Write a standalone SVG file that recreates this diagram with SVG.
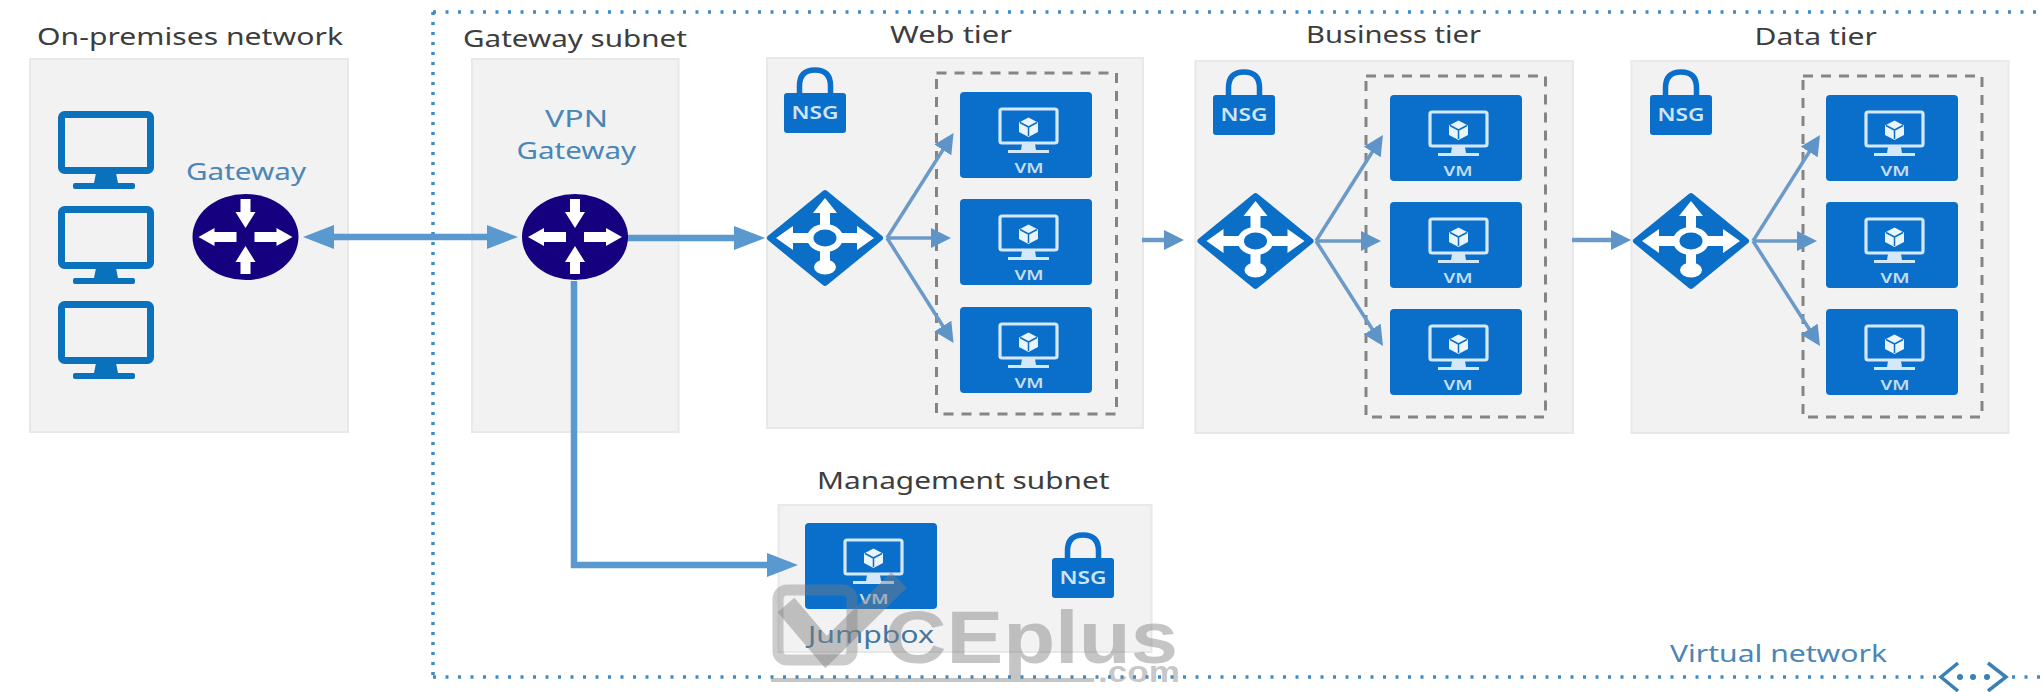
<svg xmlns="http://www.w3.org/2000/svg" xmlns:xlink="http://www.w3.org/1999/xlink" width="2042" height="692" viewBox="0 0 2042 692">
<style>
.box{fill:#f2f2f2;stroke:#e8e8e8;stroke-width:2}
.dash{fill:none;stroke:#858585;stroke-width:3;stroke-dasharray:10 8}
.title{font-family:"Noto Sans","Open Sans",sans-serif;font-size:23px;fill:#3d3d3d}
.blue{font-family:"Noto Sans","Open Sans",sans-serif;font-size:23px;fill:#4a86b6}
.vmt{font-family:"Noto Sans","Liberation Sans",sans-serif;font-size:14px;font-weight:600;fill:#c4def2;text-anchor:middle}
.nsgt{font-family:"Noto Sans","Liberation Sans",sans-serif;font-size:18px;font-weight:600;fill:#cfe4f5;text-anchor:middle}
.thick{fill:none;stroke:#5a98d0;stroke-width:6.5}
.thin{fill:none;stroke:#6b9ac8;stroke-width:3.5}
.vnet{fill:none;stroke:#3f8cc4;stroke-width:3.5}
.wm{font-family:"Liberation Sans",sans-serif;font-weight:700;fill:#7f7f7f;fill-opacity:.45}
</style>
<defs>
<marker id="hd" markerUnits="userSpaceOnUse" markerWidth="31" markerHeight="24" refX="21" refY="12" orient="auto-start-reverse"><path d="M0 0L31 12L0 24Z" fill="#5a98d0"/></marker>
<marker id="hs" markerUnits="userSpaceOnUse" markerWidth="20" markerHeight="20" refX="10" refY="10" orient="auto"><path d="M0 0L20 10L0 20Z" fill="#5f94c8"/></marker>
<g id="router">
<ellipse rx="53" ry="43" fill="#15007f"/>
<g fill="#fff">
<polygon points="-5,-38 5,-38 5,-25 10,-25 0,-9 -10,-25 -5,-25"/>
<polygon points="0,9 10,25 5,25 5,37 -5,37 -5,25 -10,25"/>
<polygon points="-47,0 -31,-9 -31,-5 -9,-5 -9,5 -31,5 -31,9"/>
<polygon points="9,-5 31,-5 31,-9 47,0 31,9 31,5 9,5"/>
</g>
</g>
<g id="lb">
<polygon points="0,-45 55,0 0,45 -55,0" fill="#0b6fc7" stroke="#0b6fc7" stroke-width="6" stroke-linejoin="round"/>
<g fill="#fff">
<ellipse rx="18" ry="14"/>
<polygon points="-49,0 -32,-12 -32,-5 -14,-5 -14,5 -32,5 -32,12"/>
<polygon points="49,0 32,-12 32,-5 14,-5 14,5 32,5 32,12"/>
<polygon points="0,-40 -12,-25 -5,-25 -5,-10 5,-10 5,-25 12,-25"/>
<rect x="-5" y="10" width="10" height="16"/>
<ellipse cy="29" rx="11" ry="7.500"/>
</g>
<ellipse rx="11.500" ry="8.500" fill="#0b6fc7"/>
</g>
<g id="pc">
<rect x="3.500" y="3.500" width="89" height="56" rx="3" fill="#f2f2f2" stroke="#0a72bd" stroke-width="7"/>
<polygon points="38,62 58,62 60,72 36,72" fill="#0a72bd"/>
<rect x="15" y="72" width="62" height="6" rx="2" fill="#0a72bd"/>
</g>
<g id="vm">
<rect width="132" height="86" rx="4" fill="#0a6ecb"/>
<rect x="40" y="17" width="57" height="34" rx="2" fill="none" stroke="#d5e8f7" stroke-width="3.200"/>
<polygon points="62,52 75,52 76,58 61,58" fill="#d5e8f7"/>
<rect x="48" y="58" width="41" height="3" fill="#d5e8f7"/>
<polygon points="68.500,25.500 78,30.500 78,40 68.500,45 59,40 59,30.500" fill="#eaf4fb"/>
<path d="M68.500 35V44M68.500 35L60 30.500M68.500 35L77 30.500" fill="none" stroke="#0a6ecb" stroke-width="1.500"/>
</g>
<g id="lock">
<rect y="26" width="62" height="40" rx="3" fill="#0a6ecb"/>
<path d="M15.500 27V19Q15.500 3 31 3Q46.500 3 46.500 19V27" fill="none" stroke="#0a6ecb" stroke-width="5.500"/>
</g>
</defs>
<rect width="2042" height="692" fill="#fff"/>
<g id="virtual-network">
<path class="vnet" style="stroke-dasharray:3 9.500" d="M433 12H2042"/>
<path class="vnet" style="stroke-dasharray:3 7" d="M433 12V677"/>
<path class="vnet" style="stroke-dasharray:3 9.500" d="M433 677H1936M2012 677H2042"/>
<text class="blue" x="1670" y="662" textLength="217" lengthAdjust="spacingAndGlyphs">Virtual network</text>
<g fill="none" stroke="#3a7fb5" stroke-width="3.500"><path d="M1958 663L1941 677L1958 691"/><path d="M1988 663L2006 677L1988 691"/></g>
<g fill="#3a7fb5"><circle cx="1960" cy="677" r="3"/><circle cx="1973" cy="677" r="3"/><circle cx="1987" cy="677" r="3"/></g>
</g>
<g id="on-premises">
<text class="title" x="37" y="45" textLength="306" lengthAdjust="spacingAndGlyphs">On-premises network</text>
<rect class="box" x="30" y="59" width="318" height="373"/>
<use xlink:href="#pc" href="#pc" x="58" y="111"/>
<use xlink:href="#pc" href="#pc" x="58" y="206"/>
<use xlink:href="#pc" href="#pc" x="58" y="301"/>
<text class="blue" x="186" y="180" textLength="120" lengthAdjust="spacingAndGlyphs">Gateway</text>
<use xlink:href="#router" href="#router" x="245.500" y="237"/>
</g>
<g id="gateway-subnet">
<text class="title" x="463" y="47" textLength="224" lengthAdjust="spacingAndGlyphs">Gateway subnet</text>
<rect class="box" x="472" y="59" width="206.500" height="373"/>
<text class="blue" x="545" y="127" textLength="63" lengthAdjust="spacingAndGlyphs">VPN</text>
<text class="blue" x="516.500" y="159" textLength="119.500" lengthAdjust="spacingAndGlyphs">Gateway</text>
</g>
<g id="web-tier">
<text class="title" x="890" y="43" textLength="122" lengthAdjust="spacingAndGlyphs">Web tier</text>
<rect class="box" x="767" y="58" width="376" height="370"/>
<rect class="dash" x="936.500" y="73" width="180" height="341"/>
<use xlink:href="#lock" href="#lock" x="784" y="67"/><text class="nsgt" x="815" y="119" textLength="47" lengthAdjust="spacingAndGlyphs">NSG</text>
<use xlink:href="#lb" href="#lb" x="825" y="238"/>
<use xlink:href="#vm" href="#vm" x="960" y="92"/><text class="vmt" x="1029" y="173" textLength="29" lengthAdjust="spacingAndGlyphs">VM</text>
<use xlink:href="#vm" href="#vm" x="960" y="199"/><text class="vmt" x="1029" y="280" textLength="29" lengthAdjust="spacingAndGlyphs">VM</text>
<use xlink:href="#vm" href="#vm" x="960" y="307"/><text class="vmt" x="1029" y="388" textLength="29" lengthAdjust="spacingAndGlyphs">VM</text>
</g>
<g id="business-tier">
<text class="title" x="1306" y="43" textLength="175" lengthAdjust="spacingAndGlyphs">Business tier</text>
<rect class="box" x="1195.500" y="61" width="377.500" height="372"/>
<rect class="dash" x="1366" y="76" width="179.500" height="341"/>
<use xlink:href="#lock" href="#lock" x="1213" y="69"/><text class="nsgt" x="1244" y="121" textLength="47" lengthAdjust="spacingAndGlyphs">NSG</text>
<use xlink:href="#lb" href="#lb" x="1255.500" y="241"/>
<use xlink:href="#vm" href="#vm" x="1390" y="95"/><text class="vmt" x="1458" y="176" textLength="29" lengthAdjust="spacingAndGlyphs">VM</text>
<use xlink:href="#vm" href="#vm" x="1390" y="202"/><text class="vmt" x="1458" y="283" textLength="29" lengthAdjust="spacingAndGlyphs">VM</text>
<use xlink:href="#vm" href="#vm" x="1390" y="309"/><text class="vmt" x="1458" y="390" textLength="29" lengthAdjust="spacingAndGlyphs">VM</text>
</g>
<g id="data-tier">
<text class="title" x="1754.500" y="45" textLength="122.500" lengthAdjust="spacingAndGlyphs">Data tier</text>
<rect class="box" x="1631.500" y="61" width="377" height="372"/>
<rect class="dash" x="1803" y="76" width="179" height="341"/>
<use xlink:href="#lock" href="#lock" x="1650" y="69"/><text class="nsgt" x="1681" y="121" textLength="47" lengthAdjust="spacingAndGlyphs">NSG</text>
<use xlink:href="#lb" href="#lb" x="1691" y="241"/>
<use xlink:href="#vm" href="#vm" x="1826" y="95"/><text class="vmt" x="1895" y="176" textLength="29" lengthAdjust="spacingAndGlyphs">VM</text>
<use xlink:href="#vm" href="#vm" x="1826" y="202"/><text class="vmt" x="1895" y="283" textLength="29" lengthAdjust="spacingAndGlyphs">VM</text>
<use xlink:href="#vm" href="#vm" x="1826" y="309"/><text class="vmt" x="1895" y="390" textLength="29" lengthAdjust="spacingAndGlyphs">VM</text>
</g>
<g id="management-subnet">
<text class="title" x="817" y="489" textLength="292.500" lengthAdjust="spacingAndGlyphs">Management subnet</text>
<rect class="box" x="778.500" y="505" width="373" height="147"/>
<use xlink:href="#vm" href="#vm" x="805" y="523"/><text class="vmt" x="874" y="604" textLength="29" lengthAdjust="spacingAndGlyphs">VM</text>
<use xlink:href="#lock" href="#lock" x="1052" y="532"/><text class="nsgt" x="1083" y="584" textLength="47" lengthAdjust="spacingAndGlyphs">NSG</text>
<text class="blue" x="808" y="643" textLength="126" lengthAdjust="spacingAndGlyphs" style="fill:#3f77a3">Jumpbox</text>
</g>
<g id="connectors">
<path class="thick" marker-start="url(#hd)" marker-end="url(#hd)" d="M313 237H508"/>
<path class="thick" marker-end="url(#hd)" d="M627 238H755"/>
<path class="thick" marker-end="url(#hd)" d="M574 281V565H788"/>
<path class="thin" marker-end="url(#hs)" d="M887 238L948.200 141.500"/>
<path class="thin" marker-end="url(#hs)" d="M887 238H941"/>
<path class="thin" marker-end="url(#hs)" d="M887 238L948.200 334.500"/>
<path class="thin" style="stroke-width:4.500" marker-end="url(#hs)" d="M1142 240H1174"/>
<path class="thin" marker-end="url(#hs)" d="M1316 241L1377.600 143.500"/>
<path class="thin" marker-end="url(#hs)" d="M1316 241H1371"/>
<path class="thin" marker-end="url(#hs)" d="M1316 241L1377.600 337.500"/>
<path class="thin" style="stroke-width:4.500" marker-end="url(#hs)" d="M1572 240H1621"/>
<path class="thin" marker-end="url(#hs)" d="M1753 241L1814.600 143.500"/>
<path class="thin" marker-end="url(#hs)" d="M1753 241H1807"/>
<path class="thin" marker-end="url(#hs)" d="M1753 241L1814.600 337.500"/>
</g>
<g id="vpn-gateway"><use xlink:href="#router" href="#router" x="575" y="237"/></g>
<g id="watermark">
<rect x="778" y="590" width="74" height="70" rx="9" fill="none" stroke="#7f7f7f" stroke-opacity=".4" stroke-width="11"/>
<path d="M786 605L826 652L899 580" fill="none" stroke="#7f7f7f" stroke-opacity=".45" stroke-width="22"/>
<text class="wm" x="885" y="663" font-size="74" textLength="293" lengthAdjust="spacingAndGlyphs">CEplus</text>
<text class="wm" x="1098" y="682" font-size="30" textLength="82" lengthAdjust="spacingAndGlyphs">.com</text>
<rect x="771" y="678" width="323" height="4" fill="#7f7f7f" fill-opacity=".45"/>
</g>
</svg>
